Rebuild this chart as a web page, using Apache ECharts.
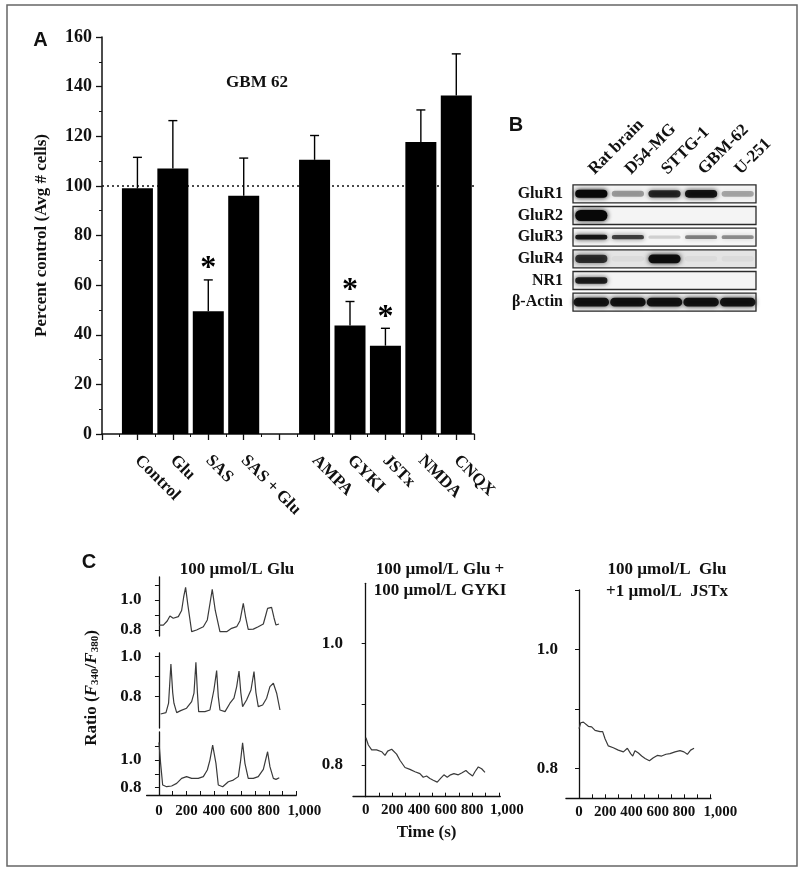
<!DOCTYPE html>
<html>
<head>
<meta charset="utf-8">
<script src="https://cdn.jsdelivr.net/npm/echarts/dist/echarts.min.js"></script>
<style>
html,body{margin:0;padding:0;background:#fff;}
#chart{width:800px;height:870px;}
</style>
</head>
<body>
<div id="chart"></div>
<script>
// ---------- Panel A data ----------
const aCategories = ['Control', 'Glu', 'SAS', 'SAS + Glu', '', 'AMPA', 'GYKI', 'JSTx', 'NMDA', 'CNQX'];
const aMeans      = [99, 107, 49.5, 96, null, 110.5, 43.7, 35.6, 117.7, 136.4];
const aErrorTop   = [111.5, 126.3, 62.1, 111.2, null, 120.3, 53.4, 42.6, 130.6, 153.2];
const aSignificant = [false, false, true, false, false, false, true, true, false, false];
const aReference = 100;

// ---------- Panel B data (band intensity 0..1) ----------
const blotLanes = ['Rat brain', 'D54-MG', 'STTG-1', 'GBM-62', 'U-251'];
const blotRows  = ['GluR1', 'GluR2', 'GluR3', 'GluR4', 'NR1', 'β-Actin'];
const bandGluR1 = [1.0, 0.35, 0.8, 0.9, 0.3];
const bandGluR2 = [1.0, 0.0, 0.0, 0.0, 0.0];
const bandGluR3 = [0.9, 0.7, 0.15, 0.45, 0.4];
const bandGluR4 = [0.75, 0.04, 0.95, 0.04, 0.04];
const bandNR1   = [0.85, 0.0, 0.0, 0.0, 0.0];
const bandActin = [0.9, 0.9, 0.9, 0.9, 0.9];

// ---------- Panel C data (time s, ratio F340/F380) ----------
const timeTicks = [0, 100, 200, 300, 400, 500, 600, 700, 800, 900, 1000];
const timeLabels = [0, 200, 400, 600, 800];
const timeLastLabel = [1000];
const ratioTicks = [0.8, 0.9, 1.0, 1.1];
const ratioLabels = [0.8, 1.0];
const gluTrace1 = [[0,0.833],[32,0.833],[60,0.86],[80,0.893],[104,0.878],[141,0.889],[165,0.93],[180,1.02],[194,1.084],[210,0.97],[238,0.789],[274,0.8],[323,0.822],[352,0.867],[372,0.98],[388,1.071],[410,0.93],[444,0.789],[493,0.789],[529,0.811],[566,0.822],[590,0.862],[614,0.978],[632,0.88],[650,0.804],[687,0.806],[723,0.822],[760,0.84],[778,0.9],[791,0.944],[805,0.955],[820,0.951],[838,0.88],[852,0.833],[874,0.84]];
const gluTrace2 = [[12,0.713],[51,0.72],[70,0.767],[87,0.963],[100,0.82],[109,0.767],[129,0.72],[158,0.73],[201,0.742],[238,0.775],[255,0.817],[269,0.972],[280,0.82],[289,0.725],[335,0.725],[371,0.733],[400,0.833],[420,0.93],[432,0.8],[444,0.733],[481,0.725],[517,0.767],[546,0.792],[566,0.85],[583,0.928],[596,0.82],[609,0.75],[638,0.783],[670,0.833],[692,0.925],[706,0.82],[723,0.75],[755,0.758],[784,0.792],[808,0.85],[833,0.867],[857,0.817],[881,0.733]];
const gluTrace3 = [[0,1.128],[12,0.976],[27,0.819],[56,0.807],[92,0.812],[129,0.831],[165,0.867],[201,0.88],[238,0.867],[286,0.867],[323,0.88],[352,0.928],[371,1.0],[391,1.108],[415,0.976],[432,0.819],[464,0.807],[505,0.843],[541,0.855],[578,0.88],[595,1.0],[609,1.125],[626,0.976],[650,0.867],[687,0.867],[723,0.88],[760,0.933],[791,1.06],[808,0.952],[833,0.867],[852,0.86],[876,0.872]];
const gykiTrace = [[2,0.845],[20,0.833],[45,0.825],[82,0.825],[120,0.822],[145,0.816],[165,0.823],[195,0.826],[207,0.827],[232,0.818],[257,0.808],[295,0.796],[332,0.793],[370,0.789],[407,0.786],[432,0.78],[457,0.782],[482,0.778],[507,0.775],[537,0.772],[562,0.778],[587,0.784],[612,0.78],[637,0.784],[662,0.786],[695,0.784],[720,0.787],[752,0.791],[777,0.786],[802,0.782],[820,0.789],[845,0.797],[870,0.794],[895,0.788]];
const jstxTrace = [[0,0.867],[13,0.877],[33,0.878],[71,0.871],[96,0.87],[122,0.864],[160,0.862],[180,0.862],[198,0.85],[223,0.838],[261,0.835],[299,0.831],[338,0.828],[368,0.834],[393,0.825],[409,0.821],[426,0.83],[452,0.826],[477,0.821],[503,0.817],[536,0.813],[566,0.818],[596,0.822],[629,0.821],[662,0.824],[693,0.825],[731,0.828],[769,0.83],[799,0.828],[825,0.824],[850,0.831],[876,0.834]];

// ---------- styles ----------
const SERIF = '"Liberation Serif", "DejaVu Serif", serif';
const SANS = '"Liberation Sans", Arial, sans-serif';
const INK = '#111';
const traceColor = '#3a3a3a';
const rowStyle = {
  'GluR1': {h: 8, w: 0.88, fill: '#f4f4f4'},
  'GluR2': {h: 11, w: 0.88, fill: '#f4f4f4'},
  'GluR3': {h: 5, w: 0.88, fill: '#f6f6f6'},
  'GluR4': {h: 9, w: 0.88, fill: '#e4e4e4'},
  'NR1':   {h: 7, w: 0.88, fill: '#f4f4f4'},
  'β-Actin': {h: 9, w: 0.97, fill: '#f0f0f0'}
};

const blotMatrix = [bandGluR1, bandGluR2, bandGluR3, bandGluR4, bandNR1, bandActin];
const blotData = [];
blotMatrix.forEach((row, r) => row.forEach((v, l) => blotData.push([l, r, v])));

const barData = [];
const errData = [];
const starData = [];
aCategories.forEach((c, i) => {
  if (aMeans[i] == null) return;
  barData.push([i + 1, aMeans[i]]);
  errData.push([i + 1, aMeans[i], aErrorTop[i]]);
  if (aSignificant[i]) starData.push([i + 1, aErrorTop[i]]);
});

const chart = echarts.init(document.getElementById('chart'), null, {renderer: 'canvas'});

function cYAxis(gi, min, max, margin) {
  return {
    type: 'value', gridIndex: gi, min: min, max: max,
    axisLine: {show: true, lineStyle: {color: INK, width: 1.3}},
    axisTick: {show: true, length: 4, inside: false, lineStyle: {color: INK, width: 1},
      customValues: ratioTicks.filter(v => v >= min && v <= max)},
    axisLabel: {show: true, margin: margin, color: INK, fontFamily: SERIF, fontWeight: 'bold', fontSize: 17,
      hideOverlap: false,
      customValues: ratioLabels.filter(v => v >= min && v <= max),
      formatter: v => v.toFixed(1)},
    splitLine: {show: false}
  };
}
function cXAxis(gi, min, max, visible, margin, name) {
  const ax = {
    type: 'value', gridIndex: gi, min: min, max: max,
    axisLine: {show: visible, onZero: false, lineStyle: {color: INK, width: 1.3}},
    axisTick: {show: visible, inside: true, length: 4, lineStyle: {color: INK, width: 1},
      customValues: timeTicks},
    axisLabel: {show: visible, margin: margin, color: INK, fontFamily: SERIF, fontWeight: 'bold', fontSize: 15,
      hideOverlap: false,
      customValues: timeLabels,
      formatter: v => String(v)},
    splitLine: {show: false}
  };
  if (name) {
    ax.name = name; ax.nameLocation = 'middle'; ax.nameGap = 27;
    ax.nameTextStyle = {color: INK, fontFamily: SERIF, fontWeight: 'bold', fontSize: 17};
  }
  return ax;
}
// second axis on the same grid that only carries the "1,000" label (shifted right as in the original)
function cXAxisLast(gi, min, max, margin, shift) {
  return {
    type: 'value', gridIndex: gi, min: min, max: max, position: 'bottom',
    axisLine: {show: false}, axisTick: {show: false}, splitLine: {show: false},
    axisLabel: {show: true, margin: margin, hideOverlap: false,
      customValues: timeLastLabel,
      formatter: v => '{r|' + v.toLocaleString('en-US') + '}',
      rich: {r: {color: INK, fontFamily: SERIF, fontWeight: 'bold', fontSize: 15, padding: [0, 0, 0, shift * 2]}}}
  };
}
function traceSeries(xi, data) {
  return {type: 'line', xAxisIndex: xi, yAxisIndex: xi, data: data, showSymbol: false, symbol: 'none',
    silent: true, animation: false, lineStyle: {color: traceColor, width: 1.2}};
}

const option = {
  animation: false,
  backgroundColor: '#fff',
  grid: [
    {left: 102, top: 37, width: 372, height: 397},      // A
    {left: 573, top: 183, width: 183, height: 130},     // B
    {left: 146.6, top: 577, width: 149.7, height: 59},  // C1
    {left: 146.6, top: 653, width: 149.7, height: 75},  // C2
    {left: 146.6, top: 732, width: 149.7, height: 63},  // C3
    {left: 353, top: 583.3, width: 147.3, height: 213.4}, // C mid
    {left: 565.9, top: 590, width: 145.1, height: 208.3}  // C right
  ],
  xAxis: [
    {type: 'value', gridIndex: 0, min: 0, max: 10.5, interval: 1,
      axisLine: {show: true, onZero: false, lineStyle: {color: INK, width: 1.5}},
      axisTick: {show: true, length: 6, lineStyle: {color: INK, width: 1.3}},
      minorTick: {show: true, splitNumber: 2, length: 3, lineStyle: {color: INK, width: 1}},
      axisLabel: {show: true, rotate: -45, margin: 24, color: INK, fontFamily: SERIF, fontWeight: 'bold', fontSize: 17,
        hideOverlap: false,
        customValues: aCategories.map((c, i) => i + 1),
        formatter: v => aCategories[Math.round(v) - 1] || ''},
      splitLine: {show: false}},
    {type: 'category', gridIndex: 1, position: 'top', data: blotLanes,
      axisLine: {show: false}, axisTick: {show: false},
      axisLabel: {show: true, rotate: -45, margin: 11, color: INK, fontFamily: SERIF, fontWeight: 'bold', fontSize: 17, interval: 0, hideOverlap: false}},
    cXAxis(2, -90, 1000, false, 8),
    cXAxis(3, -90, 1000, false, 8),
    cXAxis(4, -90, 1000, true, 9),
    cXAxis(5, -95, 1010, true, 6, 'Time (s)'),
    cXAxis(6, -100, 1005, true, 6),
    cXAxisLast(4, -90, 1000, 9, 8),
    cXAxisLast(5, -95, 1010, 6, 8),
    cXAxisLast(6, -100, 1005, 6, 10)
  ],
  yAxis: [
    {type: 'value', gridIndex: 0, min: 0, max: 160, interval: 20,
      name: 'Percent control (Avg # cells)', nameLocation: 'middle', nameGap: 52,
      nameTextStyle: {color: INK, fontFamily: SERIF, fontWeight: 'bold', fontSize: 17},
      axisLine: {show: true, lineStyle: {color: INK, width: 1.5}},
      axisTick: {show: true, length: 6, lineStyle: {color: INK, width: 1.3}},
      minorTick: {show: true, splitNumber: 2, length: 3, lineStyle: {color: INK, width: 1}},
      axisLabel: {margin: 10, color: INK, fontFamily: SERIF, fontWeight: 'bold', fontSize: 18},
      splitLine: {show: false}},
    {type: 'category', gridIndex: 1, inverse: true, data: blotRows,
      axisLine: {show: false}, axisTick: {show: false},
      axisLabel: {show: true, margin: 10, color: INK, fontFamily: SERIF, fontWeight: 'bold', fontSize: 16}},
    cYAxis(2, 0.76, 1.153, 5),
    cYAxis(3, 0.643, 1.018, 5),
    cYAxis(4, 0.747, 1.203, 5),
    cYAxis(5, 0.748, 1.099, 10),
    cYAxis(6, 0.75, 1.1, 8)
  ],
  series: [
    {type: 'bar', xAxisIndex: 0, yAxisIndex: 0, data: barData, barWidth: 31,
      itemStyle: {color: '#000'}, silent: true, z: 3,
      markLine: {silent: true, symbol: 'none', label: {show: false}, z: 2,
        lineStyle: {type: [2, 3], color: INK, width: 1.6},
        data: [{yAxis: aReference}]}},
    {type: 'custom', xAxisIndex: 0, yAxisIndex: 0, data: errData, silent: true, z: 4,
      renderItem: function (params, api) {
        const p0 = api.coord([api.value(0), api.value(1)]);
        const p1 = api.coord([api.value(0), api.value(2)]);
        const st = {stroke: '#000', lineWidth: 1.4};
        return {type: 'group', children: [
          {type: 'line', shape: {x1: p0[0], y1: p0[1], x2: p1[0], y2: p1[1]}, style: st},
          {type: 'line', shape: {x1: p1[0] - 4.5, y1: p1[1], x2: p1[0] + 4.5, y2: p1[1]}, style: st}
        ]};
      }},
    {type: 'custom', xAxisIndex: 0, yAxisIndex: 0, data: starData, silent: true, z: 5,
      renderItem: function (params, api) {
        const p = api.coord([api.value(0), api.value(1)]);
        return {type: 'text', x: p[0], y: p[1] - 11,
          style: {text: '*', font: 'bold 32px ' + SERIF, fill: '#000', textAlign: 'center', textVerticalAlign: 'middle'}};
      }},
    // blot frames
    {type: 'custom', xAxisIndex: 1, yAxisIndex: 1, data: blotRows.map((r, i) => [0, i]), silent: true, z: 1,
      renderItem: function (params, api) {
        const c = api.coord([0, api.value(1)]);
        const laneW = api.size([1, 0])[0];
        const rs = rowStyle[blotRows[api.value(1)]];
        return {type: 'rect', shape: {x: c[0] - laneW / 2, y: c[1] - 9, width: laneW * blotLanes.length, height: 18},
          style: {fill: rs.fill, stroke: '#2a2a2a', lineWidth: 1.3}};
      }},
    // blot bands
    {type: 'custom', xAxisIndex: 1, yAxisIndex: 1, data: blotData, silent: true, z: 2,
      renderItem: function (params, api) {
        const v = api.value(2);
        if (v <= 0) return null;
        const c = api.coord([api.value(0), api.value(1)]);
        const laneW = api.size([1, 0])[0];
        const rs = rowStyle[blotRows[api.value(1)]];
        const w = laneW * rs.w;
        const h = rs.h * (0.6 + 0.4 * v);
        const col = 'rgba(8,8,8,' + Math.min(1, v).toFixed(2) + ')';
        return {type: 'rect', shape: {x: c[0] - w / 2, y: c[1] - h / 2, width: w, height: h, r: h / 2},
          style: {fill: col, shadowBlur: 5, shadowColor: col}};
      }},
    traceSeries(2, gluTrace1),
    traceSeries(3, gluTrace2),
    traceSeries(4, gluTrace3),
    traceSeries(5, gykiTrace),
    traceSeries(6, jstxTrace)
  ],
  graphic: [
    {type: 'rect', silent: true, z: 0, shape: {x: 7, y: 5, width: 790, height: 861},
      style: {fill: null, stroke: '#666', lineWidth: 1.5}},
    {type: 'text', x: 40.5, y: 40, style: {text: 'A', font: 'bold 20px ' + SANS, fill: INK, textAlign: 'center', textVerticalAlign: 'middle'}},
    {type: 'text', x: 516, y: 125, style: {text: 'B', font: 'bold 20px ' + SANS, fill: INK, textAlign: 'center', textVerticalAlign: 'middle'}},
    {type: 'text', x: 89, y: 562, style: {text: 'C', font: 'bold 20px ' + SANS, fill: INK, textAlign: 'center', textVerticalAlign: 'middle'}},
    {type: 'text', x: 257, y: 83, style: {text: 'GBM 62', font: 'bold 17px ' + SERIF, fill: INK, textAlign: 'center', textVerticalAlign: 'middle'}},
    {type: 'text', x: 237, y: 570, style: {text: '100 µmol/L Glu', font: 'bold 17px ' + SERIF, fill: INK, textAlign: 'center', textVerticalAlign: 'middle'}},
    {type: 'text', x: 440, y: 570, style: {text: '100 µmol/L Glu +', font: 'bold 17px ' + SERIF, fill: INK, textAlign: 'center', textVerticalAlign: 'middle'}},
    {type: 'text', x: 440, y: 591, style: {text: '100 µmol/L GYKI', font: 'bold 17px ' + SERIF, fill: INK, textAlign: 'center', textVerticalAlign: 'middle'}},
    {type: 'text', x: 667, y: 570, style: {text: '100 µmol/L  Glu', font: 'bold 17px ' + SERIF, fill: INK, textAlign: 'center', textVerticalAlign: 'middle'}},
    {type: 'text', x: 667, y: 592, style: {text: '+1 µmol/L  JSTx', font: 'bold 17px ' + SERIF, fill: INK, textAlign: 'center', textVerticalAlign: 'middle'}},
    {type: 'text', x: 92, y: 688, rotation: Math.PI / 2,
      style: {text: 'Ratio ({i|F}{s|340}/{i|F}{s|380})', textAlign: 'center', textVerticalAlign: 'middle',
        font: 'bold 17px ' + SERIF, fill: INK,
        rich: {
          i: {fontFamily: SERIF, fontWeight: 'bold', fontStyle: 'italic', fontSize: 17, fill: INK, color: INK},
          s: {fontFamily: SERIF, fontWeight: 'bold', fontSize: 11, fill: INK, color: INK, padding: [6, 0, 0, 0]}
        }}}
  ]
};
chart.setOption(option);
</script>
</body>
</html>
